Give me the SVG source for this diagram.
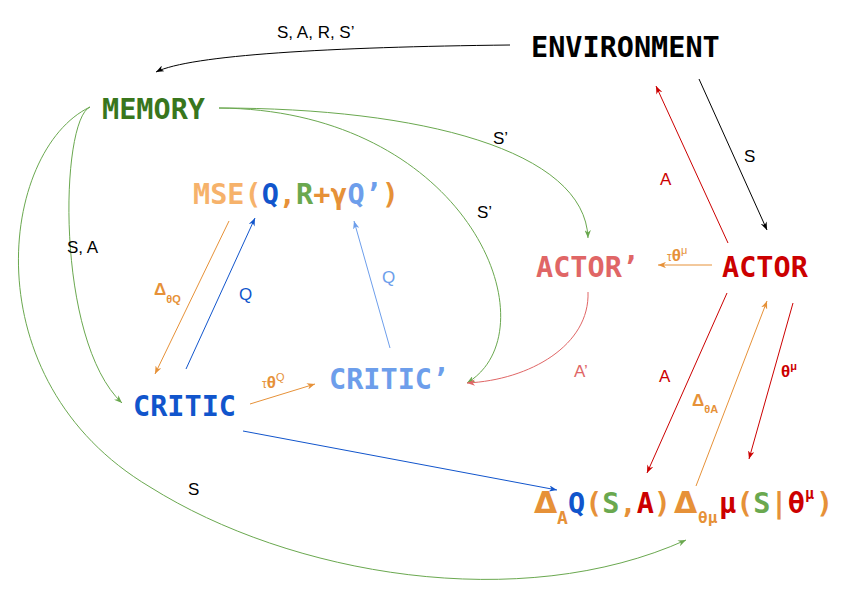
<svg xmlns="http://www.w3.org/2000/svg" width="849" height="596" viewBox="0 0 849 596">
<style>
.n{font-family:"DejaVu Sans Mono","Liberation Mono",monospace;font-weight:bold;font-size:28.5px}
.l{font-family:"Liberation Sans",Arial,sans-serif;font-size:17px}
.b{font-weight:bold}
.c{fill:none;stroke-width:1}
.d{font-family:"DejaVu Sans","Liberation Sans",sans-serif;font-weight:bold;font-size:30px}
</style>
<defs>
<marker id="mk" viewBox="0 0 10 8" refX="10" refY="4" markerWidth="8" markerHeight="6.4" markerUnits="userSpaceOnUse" orient="auto"><path d="M0,0 L10,4 L0,8 L3,4 z" fill="#000"/></marker>
<marker id="mr" viewBox="0 0 10 8" refX="10" refY="4" markerWidth="8" markerHeight="6.4" markerUnits="userSpaceOnUse" orient="auto"><path d="M0,0 L10,4 L0,8 L3,4 z" fill="#cc0000"/></marker>
<marker id="mo" viewBox="0 0 10 8" refX="10" refY="4" markerWidth="8" markerHeight="6.4" markerUnits="userSpaceOnUse" orient="auto"><path d="M0,0 L10,4 L0,8 L3,4 z" fill="#e69138"/></marker>
<marker id="mb" viewBox="0 0 10 8" refX="10" refY="4" markerWidth="8" markerHeight="6.4" markerUnits="userSpaceOnUse" orient="auto"><path d="M0,0 L10,4 L0,8 L3,4 z" fill="#1155cc"/></marker>
<marker id="mlb" viewBox="0 0 10 8" refX="10" refY="4" markerWidth="8" markerHeight="6.4" markerUnits="userSpaceOnUse" orient="auto"><path d="M0,0 L10,4 L0,8 L3,4 z" fill="#6d9eeb"/></marker>
<marker id="ms" viewBox="0 0 10 8" refX="10" refY="4" markerWidth="8" markerHeight="6.4" markerUnits="userSpaceOnUse" orient="auto"><path d="M0,0 L10,4 L0,8 L3,4 z" fill="#e06666"/></marker>
<marker id="mg" viewBox="0 0 10 8" refX="10" refY="4" markerWidth="8" markerHeight="6.4" markerUnits="userSpaceOnUse" orient="auto"><path d="M0,0 L10,4 L0,8 L3,4 z" fill="#6aa84f"/></marker>
</defs>
<rect width="849" height="596" fill="#fff"/>

<g id="connectors">
  <path class="c" stroke="#000" marker-end="url(#mk)" d="M510,45 C330,47 190,55 156,72"/>
  <path class="c" stroke="#000" marker-end="url(#mk)" d="M699,79 L767,230"/>
  <path class="c" stroke="#cc0000" marker-end="url(#mr)" d="M728,243 L656,86"/>
  <path class="c" stroke="#e69138" marker-end="url(#mo)" d="M712,265 L658,265"/>
  <path class="c" stroke="#cc0000" marker-end="url(#mr)" d="M727,293 L647,473"/>
  <path class="c" stroke="#e69138" marker-end="url(#mo)" d="M696,486 L767,301"/>
  <path class="c" stroke="#cc0000" marker-end="url(#mr)" d="M793,303 L749,459"/>
  <path class="c" stroke="#6aa84f" marker-end="url(#mg)" d="M219,108 C420,108 585,150 588,238"/>
  <path class="c" stroke="#6aa84f" marker-end="url(#mg)" d="M219,108 C470,110 555,330 467,383"/>
  <path class="c" stroke="#6aa84f" marker-end="url(#mg)" d="M90,107 C60,120 55,340 122,403"/>
  <path class="c" stroke="#6aa84f" marker-end="url(#mg)" d="M90,107 C0,150 -30,380 150,487 C290,575 520,615 686,540"/>
  <path class="c" stroke="#e06666" marker-end="url(#ms)" d="M588,292 C590,345 530,380 467,383"/>
  <path class="c" stroke="#1155cc" marker-end="url(#mb)" d="M186,369 L255,218"/>
  <path class="c" stroke="#e69138" marker-end="url(#mo)" d="M229,221 L155,374"/>
  <path class="c" stroke="#6d9eeb" marker-end="url(#mlb)" d="M390,348 L354,221"/>
  <path class="c" stroke="#e69138" marker-end="url(#mo)" d="M250,404 L315,384"/>
  <path class="c" stroke="#1155cc" marker-end="url(#mb)" d="M243,431 L557,490"/>
</g>

<g id="connector-labels">
  <text class="l" x="277" y="38">S, A, R, S’</text>
  <text class="l" x="744" y="162">S</text>
  <text class="l" x="660" y="185" fill="#cc0000">A</text>
  <text class="l" x="493" y="144">S’</text>
  <text class="l" x="477" y="218">S’</text>
  <text class="l" x="67" y="253">S, A</text>
  <text class="l" x="239" y="300" fill="#1155cc">Q</text>
  <text class="l" x="382" y="283" fill="#6d9eeb">Q</text>
  <text class="l" x="574" y="377" fill="#e06666">A’</text>
  <text class="l" x="659" y="382" fill="#cc0000">A</text>
  <text class="l" x="188" y="495">S</text>
  <text class="l b" x="154" y="295" fill="#e69138">Δ<tspan font-size="11" dy="8">θQ</tspan></text>
  <text class="l b" x="692" y="406" fill="#e69138">Δ<tspan font-size="11" dy="7">θA</tspan></text>
  <text class="l" x="667" y="261" fill="#e69138"><tspan font-size="12">τ</tspan><tspan class="b">θ</tspan><tspan font-size="11" dy="-7">μ</tspan></text>
  <text class="l" x="262" y="388" fill="#e69138"><tspan font-size="12">τ</tspan><tspan class="b">θ</tspan><tspan font-size="11" dy="-7">Q</tspan></text>
  <text class="l b" x="781" y="377" fill="#cc0000">θ<tspan font-size="11" dy="-7">μ</tspan></text>
</g>

<g id="environment"><text class="n" x="531" y="57" fill="#000">ENVIRONMENT</text></g>
<g id="memory"><text class="n" x="102" y="119" fill="#38761d">MEMORY</text></g>
<g id="mse"><text class="n" x="193" y="204"><tspan fill="#f6b26b">MSE(</tspan><tspan fill="#1155cc">Q</tspan><tspan fill="#e69138">,</tspan><tspan fill="#6aa84f">R</tspan><tspan fill="#e69138">+γ</tspan><tspan fill="#6d9eeb">Q’</tspan><tspan fill="#e69138">)</tspan></text></g>
<g id="critic"><text class="n" x="133" y="416" fill="#1155cc">CRITIC</text></g>
<g id="critic-target"><text class="n" x="329" y="389" fill="#6d9eeb">CRITIC’</text></g>
<g id="actor-target"><text class="n" x="536" y="277" fill="#e06666">ACTOR’</text></g>
<g id="actor"><text class="n" x="722" y="277" fill="#cc0000">ACTOR</text></g>
<g id="policy-gradient">
  <text class="d" x="534" y="513" fill="#e69138">Δ</text>
  <text class="n" x="557" y="524" style="font-size:18px" fill="#e69138">A</text>
  <text class="n" x="568" y="513"><tspan fill="#1155cc">Q</tspan><tspan fill="#e69138">(</tspan><tspan fill="#6aa84f">S</tspan><tspan fill="#e69138">,</tspan><tspan fill="#cc0000">A</tspan><tspan fill="#e69138">)</tspan></text>
  <text class="d" x="674" y="513" fill="#e69138">Δ</text>
  <text class="n" x="698" y="523" style="font-size:16px" fill="#e69138">θμ</text>
  <text class="n" x="719" y="513"><tspan fill="#cc0000">μ</tspan><tspan fill="#e69138">(</tspan><tspan fill="#6aa84f">S</tspan><tspan fill="#e69138">|</tspan><tspan fill="#cc0000">θ</tspan></text>
  <text class="n" x="805" y="499" style="font-size:15px" fill="#cc0000">μ</text>
  <text class="n" x="816" y="513" fill="#e69138">)</text>
</g>
</svg>
